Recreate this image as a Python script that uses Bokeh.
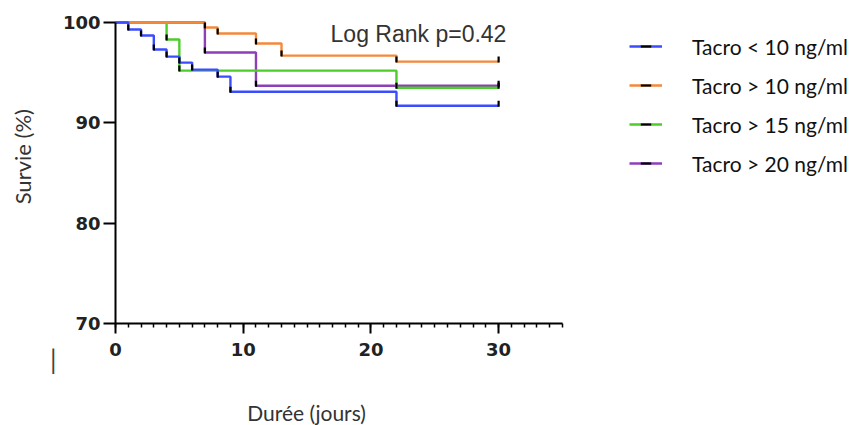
import math
from bokeh.plotting import figure
from bokeh.models import (Range1d, FixedTicker, Label, Legend, LegendItem)
from bokeh.embed import file_html
from bokeh.resources import INLINE

# ---- data ----
days = [0, 10, 20, 30]
survival_ticks = [70, 80, 90, 100]

t_lt10 = [0, 1, 2, 3, 4, 5, 6, 8, 9, 22, 30]
s_lt10 = [100, 99.3, 98.7, 97.3, 96.6, 96.0, 95.3, 94.6, 93.1, 91.7, 91.7]

t_gt10 = [0, 7, 8, 11, 13, 22, 30]
s_gt10 = [100, 99.5, 98.9, 97.9, 96.7, 96.1, 96.1]

t_gt15 = [0, 4, 5, 22, 30]
s_gt15 = [100, 98.3, 95.2, 93.5, 93.5]

t_gt20 = [0, 7, 11, 30]
s_gt20 = [100, 97.0, 93.7, 93.7]

labels = ["Tacro < 10 ng/ml", "Tacro > 10 ng/ml", "Tacro > 15 ng/ml", "Tacro > 20 ng/ml"]
colors = ["#3b4cff", "#f4893a", "#4ccd2a", "#8c3fb8"]
series = [(t_lt10, s_lt10), (t_gt10, s_gt10), (t_gt15, s_gt15), (t_gt20, s_gt20)]

W, H = 852, 425
# frame fills the canvas; axes are pinned with fixed_location
p = figure(width=W, height=H, output_backend="svg", toolbar_location=None,
           title=None,
           x_range=Range1d(-9.005, 57.71), y_range=Range1d(59.83, 102.19),
           min_border=0)
p.outline_line_color = None
p.grid.visible = False
p.background_fill_color = "white"
p.border_fill_color = "white"

p.xaxis.fixed_location = 70
p.yaxis.fixed_location = 0
p.xaxis.bounds = (0, 35)
p.yaxis.bounds = (70, 100)
p.xaxis.ticker = FixedTicker(ticks=days, minor_ticks=list(range(0, 36)))
p.yaxis.ticker = FixedTicker(ticks=survival_ticks, minor_ticks=[])
for ax in (p.xaxis, p.yaxis):
    ax.axis_line_width = 2
    ax.axis_line_color = "black"
    ax.major_tick_line_width = 2
    ax.major_tick_line_color = "black"
    ax.major_tick_in = 0
    ax.major_label_text_font = "DejaVu Sans"
    ax.major_label_text_font_style = "bold"
    ax.major_label_text_font_size = "18px"
    ax.major_label_text_color = "#222222"
p.yaxis.major_tick_out = 12
p.yaxis.major_label_standoff = 3
p.yaxis.minor_tick_line_color = None
p.xaxis.major_tick_out = 10
p.xaxis.minor_tick_out = 4
p.xaxis.minor_tick_in = 0
p.xaxis.minor_tick_line_width = 1.5
p.xaxis.minor_tick_line_color = "black"
p.xaxis.major_label_standoff = 10

rends = {}
for i in [3, 2, 1, 0]:
    t, s = series[i]
    ln = p.step(x=t, y=s, mode="after", line_color=colors[i], line_width=2.4)
    cx = t[1:]
    cy = [v + 0.2 for v in s[1:]]
    mk = p.scatter(x=cx, y=cy, marker="dash", angle=math.pi / 2, size=6,
                   line_color="black", line_width=2.2, fill_color="black")
    rends[i] = [ln, mk]
items = [LegendItem(label=labels[i], renderers=rends[i]) for i in range(4)]

legend = Legend(items=items, location=(629, 249), padding=0, margin=0,
                glyph_width=33, glyph_height=26, label_height=26, spacing=13,
                label_standoff=30, label_text_font="Lato",
                label_text_font_size="21px", label_text_color="#111111",
                border_line_color=None, background_fill_alpha=0)
p.add_layout(legend, "center")

p.add_layout(Label(x=16.84, y=98.87, text="Log Rank p=0.42", text_font="Liberation Sans",
                   text_font_size="23px", text_color="#333333",
                   text_baseline="alphabetic", text_align="left"))
p.add_layout(Label(x=14.96, y=61.1, text="Durée (jours)", text_font="Lato",
                   text_font_size="21px", text_color="#333333",
                   text_baseline="alphabetic", text_align="center"))
p.add_layout(Label(x=-7.3, y=86.9, text="Survie  (%)", text_font="Lato",
                   text_font_size="22px", text_color="#333333", angle=math.pi / 2,
                   text_baseline="middle", text_align="center"))
p.add_layout(Label(x=-4.88, y=66.5, text="|", text_font="Lato",
                   text_font_size="26px", text_color="#444444",
                   text_baseline="middle", text_align="center"))

open("out.html", "w").write(file_html(p, INLINE))
